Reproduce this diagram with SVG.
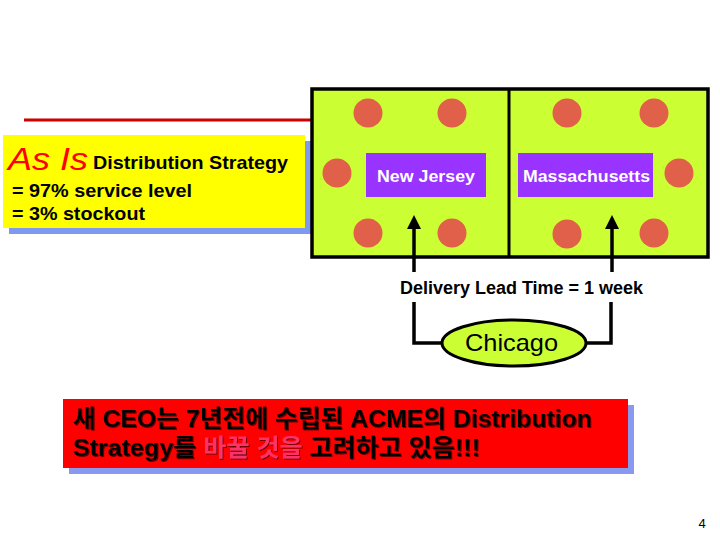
<svg xmlns="http://www.w3.org/2000/svg" width="720" height="540" viewBox="0 0 720 540">
<defs>
<style>
.t{font-family:"Liberation Sans","Noto Sans CJK KR",Arial,sans-serif;font-weight:bold;}
.dot{fill:#E0604A;}
.pur{fill:#9933FF;}
.wt{fill:#FFFFFF;font-size:17px;}
.conn{stroke:#000;stroke-width:3.5;fill:none;}
</style>
<filter id="ts" x="-5%" y="-20%" width="110%" height="140%">
<feDropShadow dx="1" dy="1" stdDeviation="0.3" flood-color="#700000" flood-opacity="1"/>
</filter>
<marker id="ah" markerWidth="4" markerHeight="4" refX="2" refY="2" orient="auto" markerUnits="strokeWidth">
<path d="M0,0 L4,2 L0,4 z" fill="#000"/>
</marker>
</defs>
<rect width="720" height="540" fill="#FFFFFF"/>
<line x1="24" y1="120" x2="312" y2="120" stroke="#CC0000" stroke-width="3"/>
<g id="asis">
<rect x="9" y="141" width="302" height="93" fill="#7F99EE"/>
<rect x="3" y="135" width="302" height="93" fill="#FFFF00"/>
<text x="8" y="170" fill="#FF0000" font-family="Liberation Sans,Arial,sans-serif" font-size="31" font-style="italic" textLength="80" lengthAdjust="spacingAndGlyphs">As Is</text>
<text class="t" x="93" y="169" font-size="19" fill="#000" textLength="195" lengthAdjust="spacingAndGlyphs">Distribution Strategy</text>
<text class="t" x="12" y="197" font-size="19" fill="#000" textLength="180" lengthAdjust="spacingAndGlyphs">= 97% service level</text>
<text class="t" x="12" y="220" font-size="19" fill="#000" textLength="133" lengthAdjust="spacingAndGlyphs">= 3% stockout</text>
</g>
<g id="region">
<rect x="312" y="89" width="396" height="168" fill="#CCFF33" stroke="#000" stroke-width="3.5"/>
<line x1="509" y1="89" x2="509" y2="257" stroke="#000" stroke-width="3"/>
<circle class="dot" cx="368" cy="113" r="14.5"/>
<circle class="dot" cx="452" cy="113" r="14.5"/>
<circle class="dot" cx="337" cy="173" r="14.5"/>
<circle class="dot" cx="368" cy="233" r="14.5"/>
<circle class="dot" cx="452" cy="233" r="14.5"/>
<circle class="dot" cx="567" cy="113" r="14.5"/>
<circle class="dot" cx="654" cy="113" r="14.5"/>
<circle class="dot" cx="679" cy="173" r="14.5"/>
<circle class="dot" cx="567" cy="234" r="14.5"/>
<circle class="dot" cx="654" cy="233" r="14.5"/>
</g>
<g id="nj">
<rect class="pur" x="366" y="153" width="120" height="44"/>
<text class="t wt" x="377" y="182" textLength="98" lengthAdjust="spacingAndGlyphs">New Jersey</text>
</g>
<g id="ma">
<rect class="pur" x="518" y="153" width="135" height="44"/>
<text class="t wt" x="523" y="182" textLength="127" lengthAdjust="spacingAndGlyphs">Massachusetts</text>
</g>
<g id="connectors">
<line class="conn" x1="414" y1="272" x2="414" y2="222" marker-end="url(#ah)"/>
<line class="conn" x1="612" y1="272" x2="612" y2="222" marker-end="url(#ah)"/>
<polyline class="conn" points="414,302 414,343 442,343"/>
<polyline class="conn" points="611,302 611,343 587,343"/>
</g>
<text class="t" x="400" y="294" font-size="17.5" fill="#000" textLength="243" lengthAdjust="spacingAndGlyphs">Delivery Lead Time = 1 week</text>
<g id="chicago">
<ellipse cx="514" cy="343" rx="72" ry="23" fill="#CCFF33" stroke="#000" stroke-width="3"/>
<text x="465" y="351" font-family="Liberation Sans,Arial,sans-serif" font-size="24" fill="#000" textLength="93" lengthAdjust="spacingAndGlyphs">Chicago</text>
</g>
<g id="note">
<rect x="69" y="405" width="565" height="69" fill="#8899EE"/>
<rect x="63" y="399" width="565" height="69" fill="#FF0000"/>
<text class="t" x="73" y="427" font-size="23.5" fill="#000" filter="url(#ts)" textLength="519" lengthAdjust="spacingAndGlyphs">새 CEO는 7년전에 수립된 ACME의 Distribution</text>
<text class="t" x="73" y="456" font-size="23.5" fill="#000" filter="url(#ts)" textLength="407" lengthAdjust="spacingAndGlyphs">Strategy를 <tspan fill="#FF3366">바꿀 것을</tspan> 고려하고 있음!!!</text>
</g>
<text x="702" y="528" font-family="Liberation Sans,Arial,sans-serif" font-size="13" text-anchor="middle" fill="#000">4</text>
</svg>
